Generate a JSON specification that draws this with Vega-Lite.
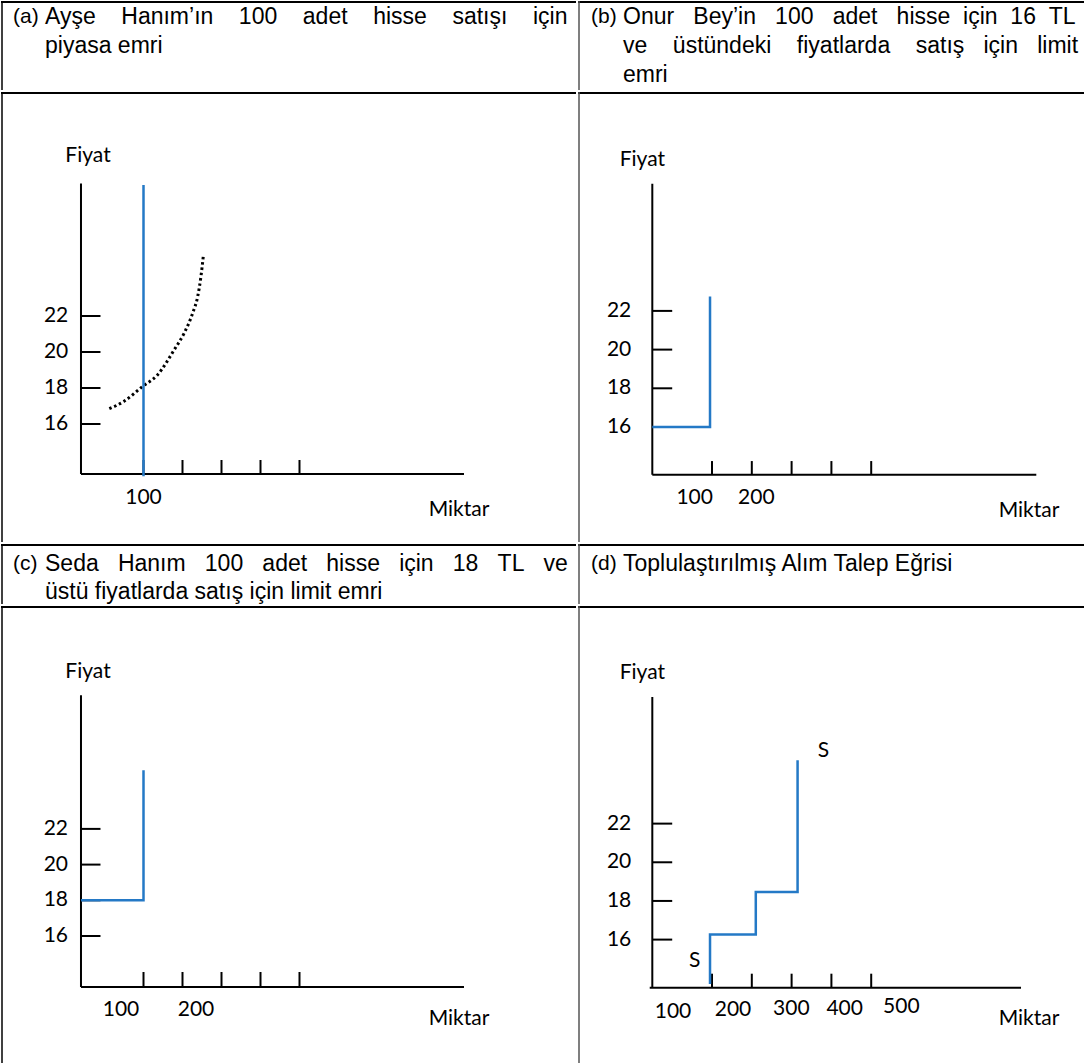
{
  "$schema": "https://vega.github.io/schema/vega-lite/v6.json",
  "padding": 0,
  "background": "white",
  "spacing": 0,
  "config": {"view": {"stroke": null}, "concat": {"spacing": 0}},
  "datasets": {
    "axes": [
      {"panel": "a", "q": -60.3, "q2": -60.3, "p": 13.22, "p2": 29.36},
      {"panel": "a", "q": -60.3, "q2": 921.8, "p": 13.22, "p2": 13.22},
      {"panel": "a", "q": -60.3, "q2": -10.3, "p": 16, "p2": 16},
      {"panel": "a", "q": -60.3, "q2": -10.3, "p": 18, "p2": 18},
      {"panel": "a", "q": -60.3, "q2": -10.3, "p": 20, "p2": 20},
      {"panel": "a", "q": -60.3, "q2": -10.3, "p": 22, "p2": 22},
      {"panel": "a", "q": 100, "q2": 100, "p": 13.22, "p2": 14.0},
      {"panel": "a", "q": 200, "q2": 200, "p": 13.22, "p2": 14.0},
      {"panel": "a", "q": 300, "q2": 300, "p": 13.22, "p2": 14.0},
      {"panel": "a", "q": 400, "q2": 400, "p": 13.22, "p2": 14.0},
      {"panel": "a", "q": 500, "q2": 500, "p": 13.22, "p2": 14.0},
      {"panel": "b", "q": -50, "q2": -50, "p": 13.535, "p2": 28.57},
      {"panel": "b", "q": -50, "q2": 914.8, "p": 13.535, "p2": 13.535},
      {"panel": "b", "q": -50, "q2": 0, "p": 16, "p2": 16},
      {"panel": "b", "q": -50, "q2": 0, "p": 18, "p2": 18},
      {"panel": "b", "q": -50, "q2": 0, "p": 20, "p2": 20},
      {"panel": "b", "q": -50, "q2": 0, "p": 22, "p2": 22},
      {"panel": "b", "q": 100, "q2": 100, "p": 13.535, "p2": 14.24},
      {"panel": "b", "q": 200, "q2": 200, "p": 13.535, "p2": 14.24},
      {"panel": "b", "q": 300, "q2": 300, "p": 13.535, "p2": 14.24},
      {"panel": "b", "q": 400, "q2": 400, "p": 13.535, "p2": 14.24},
      {"panel": "b", "q": 500, "q2": 500, "p": 13.535, "p2": 14.24},
      {"panel": "c", "q": -60.3, "q2": -60.3, "p": 13.143, "p2": 29.485},
      {"panel": "c", "q": -60.3, "q2": 921.8, "p": 13.143, "p2": 13.143},
      {"panel": "c", "q": -60.3, "q2": -10.3, "p": 16, "p2": 16},
      {"panel": "c", "q": -60.3, "q2": -10.3, "p": 18, "p2": 18},
      {"panel": "c", "q": -60.3, "q2": -10.3, "p": 20, "p2": 20},
      {"panel": "c", "q": -60.3, "q2": -10.3, "p": 22, "p2": 22},
      {"panel": "c", "q": 100, "q2": 100, "p": 13.143, "p2": 13.983},
      {"panel": "c", "q": 200, "q2": 200, "p": 13.143, "p2": 13.983},
      {"panel": "c", "q": 300, "q2": 300, "p": 13.143, "p2": 13.983},
      {"panel": "c", "q": 400, "q2": 400, "p": 13.143, "p2": 13.983},
      {"panel": "c", "q": 500, "q2": 500, "p": 13.143, "p2": 13.983},
      {"panel": "d", "q": -50, "q2": -50, "p": 13.512, "p2": 28.55},
      {"panel": "d", "q": -56.5, "q2": 876.4, "p": 13.512, "p2": 13.512},
      {"panel": "d", "q": -50, "q2": 0, "p": 16, "p2": 16},
      {"panel": "d", "q": -50, "q2": 0, "p": 18, "p2": 18},
      {"panel": "d", "q": -50, "q2": 0, "p": 20, "p2": 20},
      {"panel": "d", "q": -50, "q2": 0, "p": 22, "p2": 22},
      {"panel": "d", "q": 100, "q2": 100, "p": 13.512, "p2": 14.236},
      {"panel": "d", "q": 200, "q2": 200, "p": 13.512, "p2": 14.236},
      {"panel": "d", "q": 300, "q2": 300, "p": 13.512, "p2": 14.236},
      {"panel": "d", "q": 400, "q2": 400, "p": 13.512, "p2": 14.236},
      {"panel": "d", "q": 500, "q2": 500, "p": 13.512, "p2": 14.236}
    ],
    "blue": [
      {"panel": "a", "o": 1, "q": 100, "p": 13.1},
      {"panel": "a", "o": 2, "q": 100, "p": 29.28},
      {"panel": "b", "o": 1, "q": -50, "p": 16},
      {"panel": "b", "o": 2, "q": 95, "p": 16},
      {"panel": "b", "o": 3, "q": 95, "p": 22.75},
      {"panel": "c", "o": 1, "q": -60.3, "p": 18},
      {"panel": "c", "o": 2, "q": 100, "p": 18},
      {"panel": "c", "o": 3, "q": 100, "p": 25.28},
      {"panel": "d", "o": 1, "q": 95, "p": 13.7},
      {"panel": "d", "o": 2, "q": 95, "p": 16.27},
      {"panel": "d", "o": 3, "q": 210, "p": 16.27},
      {"panel": "d", "o": 4, "q": 210, "p": 18.46},
      {"panel": "d", "o": 5, "q": 315, "p": 18.46},
      {"panel": "d", "o": 6, "q": 315, "p": 25.28}
    ],
    "curve": [
      {"o": 1, "q": 12.3, "p": 16.85},
      {"o": 2, "q": 50, "p": 17.26},
      {"o": 3, "q": 97.9, "p": 18.09},
      {"o": 4, "q": 136.4, "p": 18.74},
      {"o": 5, "q": 179, "p": 20.13},
      {"o": 6, "q": 204.6, "p": 21.06},
      {"o": 7, "q": 226.2, "p": 22.17},
      {"o": 8, "q": 239, "p": 23.09},
      {"o": 9, "q": 247.4, "p": 24.21},
      {"o": 10, "q": 253.3, "p": 25.32}
    ],
    "labels": [
      {"panel": "a", "kind": "c", "text": "Fiyat", "q": -42.3, "p": 30.89},
      {"panel": "a", "kind": "r", "text": "22", "q": -92.8, "p": 22},
      {"panel": "a", "kind": "r", "text": "20", "q": -92.8, "p": 20},
      {"panel": "a", "kind": "r", "text": "18", "q": -92.8, "p": 18},
      {"panel": "a", "kind": "r", "text": "16", "q": -92.8, "p": 16},
      {"panel": "a", "kind": "c", "text": "100", "q": 100, "p": 11.9},
      {"panel": "a", "kind": "c", "text": "Miktar", "q": 909, "p": 11.2},
      {"panel": "b", "kind": "c", "text": "Fiyat", "q": -75.1, "p": 29.81},
      {"panel": "b", "kind": "r", "text": "22", "q": -102.8, "p": 22},
      {"panel": "b", "kind": "r", "text": "20", "q": -102.8, "p": 20},
      {"panel": "b", "kind": "r", "text": "18", "q": -102.8, "p": 18},
      {"panel": "b", "kind": "r", "text": "16", "q": -102.8, "p": 16},
      {"panel": "b", "kind": "c", "text": "100", "q": 56.5, "p": 12.33},
      {"panel": "b", "kind": "c", "text": "200", "q": 211.3, "p": 12.33},
      {"panel": "b", "kind": "c", "text": "Miktar", "q": 896.5, "p": 11.65},
      {"panel": "c", "kind": "c", "text": "Fiyat", "q": -42.3, "p": 30.77},
      {"panel": "c", "kind": "r", "text": "22", "q": -93.6, "p": 22},
      {"panel": "c", "kind": "r", "text": "20", "q": -93.6, "p": 20},
      {"panel": "c", "kind": "r", "text": "18", "q": -93.6, "p": 18},
      {"panel": "c", "kind": "r", "text": "16", "q": -93.6, "p": 16},
      {"panel": "c", "kind": "c", "text": "100", "q": 42.3, "p": 11.882},
      {"panel": "c", "kind": "c", "text": "200", "q": 234.6, "p": 11.882},
      {"panel": "c", "kind": "c", "text": "Miktar", "q": 909, "p": 11.35},
      {"panel": "d", "kind": "c", "text": "Fiyat", "q": -75.1, "p": 29.79},
      {"panel": "d", "kind": "r", "text": "22", "q": -102.8, "p": 22},
      {"panel": "d", "kind": "r", "text": "20", "q": -102.8, "p": 20},
      {"panel": "d", "kind": "r", "text": "18", "q": -102.8, "p": 18},
      {"panel": "d", "kind": "r", "text": "16", "q": -102.8, "p": 16},
      {"panel": "d", "kind": "c", "text": "S", "q": 380, "p": 25.75},
      {"panel": "d", "kind": "c", "text": "S", "q": 56.5, "p": 14.88},
      {"panel": "d", "kind": "c", "text": "100", "q": 2.0, "p": 12.255},
      {"panel": "d", "kind": "c", "text": "200", "q": 152.8, "p": 12.343},
      {"panel": "d", "kind": "c", "text": "300", "q": 299.2, "p": 12.394},
      {"panel": "d", "kind": "c", "text": "400", "q": 433.4, "p": 12.394},
      {"panel": "d", "kind": "c", "text": "500", "q": 575.6, "p": 12.513},
      {"panel": "d", "kind": "c", "text": "Miktar", "q": 896.5, "p": 11.89}
    ]
  },
  "vconcat": [
    {
      "spacing": 0,
      "hconcat": [
        {
          "width": 575, "height": 89,
          "data": {"values": [{}]},
          "layer": [
            {"mark": {"type": "rule", "color": "black", "strokeWidth": 2}, "encoding": {"x": {"value": 0}, "x2": {"value": "width"}, "y": {"value": 1}}},
            {"mark": {"type": "rule", "color": "black", "strokeWidth": 1.5}, "encoding": {"x": {"value": 1}, "y": {"value": 0}, "y2": {"value": "height"}}},
            {"mark": {"type": "text", "align": "left", "baseline": "middle", "font": "Liberation Sans", "fontSize": 21, "text": "(a)"}, "encoding": {"x": {"value": 12}, "y": {"value": 16}}},
            {"mark": {"type": "text", "align": "left", "baseline": "middle", "font": "Liberation Sans", "fontSize": 23, "text": "Ayşe\u00a0\u00a0\u00a0\u00a0Hanım’ın\u00a0\u00a0\u00a0\u00a0100\u00a0\u00a0\u00a0\u00a0adet\u00a0\u00a0\u00a0\u00a0hisse\u00a0\u00a0\u00a0\u00a0satışı\u00a0\u00a0\u00a0\u00a0için"}, "encoding": {"x": {"value": 44}, "y": {"value": 16}}},
            {"mark": {"type": "text", "align": "left", "baseline": "middle", "font": "Liberation Sans", "fontSize": 23, "text": "piyasa emri"}, "encoding": {"x": {"value": 44}, "y": {"value": 45}}}
          ]
        },
        {
          "width": 509, "height": 89,
          "data": {"values": [{}]},
          "layer": [
            {"mark": {"type": "rule", "color": "black", "strokeWidth": 2}, "encoding": {"x": {"value": 0}, "x2": {"value": "width"}, "y": {"value": 1}}},
            {"mark": {"type": "rule", "color": "#555555", "strokeWidth": 1.5}, "encoding": {"x": {"value": 1}, "y": {"value": 0}, "y2": {"value": "height"}}},
            {"mark": {"type": "text", "align": "left", "baseline": "middle", "font": "Liberation Sans", "fontSize": 21, "text": "(b)"}, "encoding": {"x": {"value": 13}, "y": {"value": 16}}},
            {"mark": {"type": "text", "align": "left", "baseline": "middle", "font": "Liberation Sans", "fontSize": 23, "text": "Onur\u00a0\u00a0\u00a0Bey’in\u00a0\u00a0\u00a0100\u00a0\u00a0\u00a0adet\u00a0\u00a0\u00a0hisse\u00a0\u00a0için\u00a0\u00a016\u00a0\u00a0TL"}, "encoding": {"x": {"value": 45}, "y": {"value": 16}}},
            {"mark": {"type": "text", "align": "left", "baseline": "middle", "font": "Liberation Sans", "fontSize": 23, "text": "ve\u00a0\u00a0\u00a0\u00a0üstündeki\u00a0\u00a0\u00a0\u00a0fiyatlarda\u00a0\u00a0\u00a0\u00a0satış\u00a0\u00a0\u00a0için\u00a0\u00a0\u00a0limit"}, "encoding": {"x": {"value": 45}, "y": {"value": 45}}},
            {"mark": {"type": "text", "align": "left", "baseline": "middle", "font": "Liberation Sans", "fontSize": 23, "text": "emri"}, "encoding": {"x": {"value": 45}, "y": {"value": 74}}}
          ]
        }
      ]
    },
    {
      "spacing": 0,
      "hconcat": [
        {
          "width": 575, "height": 450,
          "layer": [
            {"data": {"values": [{}]}, "mark": {"type": "rule", "color": "black", "strokeWidth": 2}, "encoding": {"x": {"value": 0}, "x2": {"value": "width"}, "y": {"value": 1}}},
            {"data": {"values": [{}]}, "mark": {"type": "rule", "color": "black", "strokeWidth": 1.5}, "encoding": {"x": {"value": 1}, "y": {"value": 0}, "y2": {"value": "height"}}},
            {"data": {"name": "axes"}, "transform": [{"filter": "datum.panel === 'a'"}], "mark": {"type": "rule", "color": "black", "strokeWidth": 2},
             "encoding": {"x": {"field": "q", "type": "quantitative", "scale": {"domain": [-265.4, 1209.0], "nice": false, "zero": false}, "axis": null}, "x2": {"field": "q2"},
                          "y": {"field": "p", "type": "quantitative", "scale": {"domain": [9.444, 34.444], "nice": false, "zero": false}, "axis": null}, "y2": {"field": "p2"}}},
            {"data": {"name": "curve"}, "mark": {"type": "line", "color": "black", "strokeWidth": 3, "strokeDash": [2.5, 2.8], "interpolate": "monotone"},
             "encoding": {"x": {"field": "q", "type": "quantitative"}, "y": {"field": "p", "type": "quantitative"}, "order": {"field": "o"}}},
            {"data": {"name": "blue"}, "transform": [{"filter": "datum.panel === 'a'"}], "mark": {"type": "line", "color": "#2479C6", "strokeWidth": 2.5},
             "encoding": {"x": {"field": "q", "type": "quantitative"}, "y": {"field": "p", "type": "quantitative"}, "order": {"field": "o"}}},
            {"data": {"name": "labels"}, "transform": [{"filter": "datum.panel === 'a' && datum.kind === 'c'"}], "mark": {"type": "text", "align": "center", "baseline": "middle", "font": "Lato", "fontSize": 21, "color": "black"},
             "encoding": {"x": {"field": "q", "type": "quantitative"}, "y": {"field": "p", "type": "quantitative"}, "text": {"field": "text"}}},
            {"data": {"name": "labels"}, "transform": [{"filter": "datum.panel === 'a' && datum.kind === 'r'"}], "mark": {"type": "text", "align": "right", "baseline": "middle", "font": "Lato", "fontSize": 21, "color": "black"},
             "encoding": {"x": {"field": "q", "type": "quantitative"}, "y": {"field": "p", "type": "quantitative"}, "text": {"field": "text"}}}
          ]
        },
        {
          "width": 509, "height": 450,
          "layer": [
            {"data": {"values": [{}]}, "mark": {"type": "rule", "color": "black", "strokeWidth": 2}, "encoding": {"x": {"value": 0}, "x2": {"value": "width"}, "y": {"value": 1}}},
            {"data": {"values": [{}]}, "mark": {"type": "rule", "color": "#555555", "strokeWidth": 1.5}, "encoding": {"x": {"value": 1}, "y": {"value": 0}, "y2": {"value": "height"}}},
            {"data": {"name": "axes"}, "transform": [{"filter": "datum.panel === 'b'"}], "mark": {"type": "rule", "color": "black", "strokeWidth": 2},
             "encoding": {"x": {"field": "q", "type": "quantitative", "scale": {"domain": [-236.7, 1042.2], "nice": false, "zero": false}, "axis": null}, "x2": {"field": "q2"},
                          "y": {"field": "p", "type": "quantitative", "scale": {"domain": [10.057, 33.313], "nice": false, "zero": false}, "axis": null}, "y2": {"field": "p2"}}},
            {"data": {"name": "blue"}, "transform": [{"filter": "datum.panel === 'b'"}], "mark": {"type": "line", "color": "#2479C6", "strokeWidth": 2.5},
             "encoding": {"x": {"field": "q", "type": "quantitative"}, "y": {"field": "p", "type": "quantitative"}, "order": {"field": "o"}}},
            {"data": {"name": "labels"}, "transform": [{"filter": "datum.panel === 'b' && datum.kind === 'c'"}], "mark": {"type": "text", "align": "center", "baseline": "middle", "font": "Lato", "fontSize": 21, "color": "black"},
             "encoding": {"x": {"field": "q", "type": "quantitative"}, "y": {"field": "p", "type": "quantitative"}, "text": {"field": "text"}}},
            {"data": {"name": "labels"}, "transform": [{"filter": "datum.panel === 'b' && datum.kind === 'r'"}], "mark": {"type": "text", "align": "right", "baseline": "middle", "font": "Lato", "fontSize": 21, "color": "black"},
             "encoding": {"x": {"field": "q", "type": "quantitative"}, "y": {"field": "p", "type": "quantitative"}, "text": {"field": "text"}}}
          ]
        }
      ]
    },
    {
      "spacing": 0,
      "hconcat": [
        {
          "width": 575, "height": 60,
          "data": {"values": [{}]},
          "layer": [
            {"mark": {"type": "rule", "color": "black", "strokeWidth": 2}, "encoding": {"x": {"value": 0}, "x2": {"value": "width"}, "y": {"value": 1}}},
            {"mark": {"type": "rule", "color": "black", "strokeWidth": 1.5}, "encoding": {"x": {"value": 1}, "y": {"value": 0}, "y2": {"value": "height"}}},
            {"mark": {"type": "text", "align": "left", "baseline": "middle", "font": "Liberation Sans", "fontSize": 21, "text": "(c)"}, "encoding": {"x": {"value": 12}, "y": {"value": 20}}},
            {"mark": {"type": "text", "align": "left", "baseline": "middle", "font": "Liberation Sans", "fontSize": 23, "text": "Seda\u00a0\u00a0\u00a0Hanım\u00a0\u00a0\u00a0100\u00a0\u00a0\u00a0adet\u00a0\u00a0\u00a0hisse\u00a0\u00a0\u00a0için\u00a0\u00a0\u00a018\u00a0\u00a0\u00a0TL\u00a0\u00a0\u00a0ve"}, "encoding": {"x": {"value": 44}, "y": {"value": 20}}},
            {"mark": {"type": "text", "align": "left", "baseline": "middle", "font": "Liberation Sans", "fontSize": 23, "text": "üstü fiyatlarda satış için limit emri"}, "encoding": {"x": {"value": 44}, "y": {"value": 48}}}
          ]
        },
        {
          "width": 509, "height": 60,
          "data": {"values": [{}]},
          "layer": [
            {"mark": {"type": "rule", "color": "black", "strokeWidth": 2}, "encoding": {"x": {"value": 0}, "x2": {"value": "width"}, "y": {"value": 1}}},
            {"mark": {"type": "rule", "color": "#555555", "strokeWidth": 1.5}, "encoding": {"x": {"value": 1}, "y": {"value": 0}, "y2": {"value": "height"}}},
            {"mark": {"type": "text", "align": "left", "baseline": "middle", "font": "Liberation Sans", "fontSize": 21, "text": "(d)"}, "encoding": {"x": {"value": 13}, "y": {"value": 20}}},
            {"mark": {"type": "text", "align": "left", "baseline": "middle", "font": "Liberation Sans", "fontSize": 23, "text": "Toplulaştırılmış Alım Talep Eğrisi"}, "encoding": {"x": {"value": 45}, "y": {"value": 20}}}
          ]
        }
      ]
    },
    {
      "spacing": 0,
      "hconcat": [
        {
          "width": 575, "height": 464,
          "layer": [
            {"data": {"values": [{}]}, "mark": {"type": "rule", "color": "black", "strokeWidth": 2}, "encoding": {"x": {"value": 0}, "x2": {"value": "width"}, "y": {"value": 1}}},
            {"data": {"values": [{}]}, "mark": {"type": "rule", "color": "black", "strokeWidth": 1.5}, "encoding": {"x": {"value": 1}, "y": {"value": 0}, "y2": {"value": "height"}}},
            {"data": {"name": "axes"}, "transform": [{"filter": "datum.panel === 'c'"}], "mark": {"type": "rule", "color": "black", "strokeWidth": 2},
             "encoding": {"x": {"field": "q", "type": "quantitative", "scale": {"domain": [-265.4, 1209.0], "nice": false, "zero": false}, "axis": null}, "x2": {"field": "q2"},
                          "y": {"field": "p", "type": "quantitative", "scale": {"domain": [8.493, 34.487], "nice": false, "zero": false}, "axis": null}, "y2": {"field": "p2"}}},
            {"data": {"name": "blue"}, "transform": [{"filter": "datum.panel === 'c'"}], "mark": {"type": "line", "color": "#2479C6", "strokeWidth": 2.5},
             "encoding": {"x": {"field": "q", "type": "quantitative"}, "y": {"field": "p", "type": "quantitative"}, "order": {"field": "o"}}},
            {"data": {"name": "labels"}, "transform": [{"filter": "datum.panel === 'c' && datum.kind === 'c'"}], "mark": {"type": "text", "align": "center", "baseline": "middle", "font": "Lato", "fontSize": 21, "color": "black"},
             "encoding": {"x": {"field": "q", "type": "quantitative"}, "y": {"field": "p", "type": "quantitative"}, "text": {"field": "text"}}},
            {"data": {"name": "labels"}, "transform": [{"filter": "datum.panel === 'c' && datum.kind === 'r'"}], "mark": {"type": "text", "align": "right", "baseline": "middle", "font": "Lato", "fontSize": 21, "color": "black"},
             "encoding": {"x": {"field": "q", "type": "quantitative"}, "y": {"field": "p", "type": "quantitative"}, "text": {"field": "text"}}}
          ]
        },
        {
          "width": 509, "height": 464,
          "layer": [
            {"data": {"values": [{}]}, "mark": {"type": "rule", "color": "black", "strokeWidth": 2}, "encoding": {"x": {"value": 0}, "x2": {"value": "width"}, "y": {"value": 1}}},
            {"data": {"values": [{}]}, "mark": {"type": "rule", "color": "#555555", "strokeWidth": 1.5}, "encoding": {"x": {"value": 1}, "y": {"value": 0}, "y2": {"value": "height"}}},
            {"data": {"name": "axes"}, "transform": [{"filter": "datum.panel === 'd'"}], "mark": {"type": "rule", "color": "black", "strokeWidth": 2},
             "encoding": {"x": {"field": "q", "type": "quantitative", "scale": {"domain": [-236.7, 1042.2], "nice": false, "zero": false}, "axis": null}, "x2": {"field": "q2"},
                          "y": {"field": "p", "type": "quantitative", "scale": {"domain": [9.254, 33.258], "nice": false, "zero": false}, "axis": null}, "y2": {"field": "p2"}}},
            {"data": {"name": "blue"}, "transform": [{"filter": "datum.panel === 'd'"}], "mark": {"type": "line", "color": "#2479C6", "strokeWidth": 2.5},
             "encoding": {"x": {"field": "q", "type": "quantitative"}, "y": {"field": "p", "type": "quantitative"}, "order": {"field": "o"}}},
            {"data": {"name": "labels"}, "transform": [{"filter": "datum.panel === 'd' && datum.kind === 'c'"}], "mark": {"type": "text", "align": "center", "baseline": "middle", "font": "Lato", "fontSize": 21, "color": "black"},
             "encoding": {"x": {"field": "q", "type": "quantitative"}, "y": {"field": "p", "type": "quantitative"}, "text": {"field": "text"}}},
            {"data": {"name": "labels"}, "transform": [{"filter": "datum.panel === 'd' && datum.kind === 'r'"}], "mark": {"type": "text", "align": "right", "baseline": "middle", "font": "Lato", "fontSize": 21, "color": "black"},
             "encoding": {"x": {"field": "q", "type": "quantitative"}, "y": {"field": "p", "type": "quantitative"}, "text": {"field": "text"}}}
          ]
        }
      ]
    }
  ]
}
